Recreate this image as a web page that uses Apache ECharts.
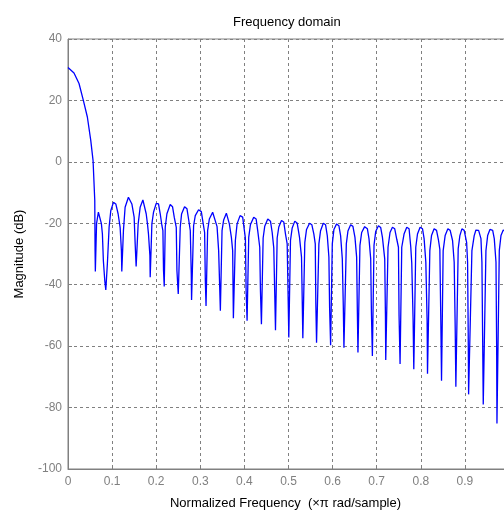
<!DOCTYPE html>
<html>
<head>
<meta charset="utf-8">
<script src="https://cdn.jsdelivr.net/npm/echarts@6/dist/echarts.min.js"></script>
<style>html,body{margin:0;padding:0;background:#fff;overflow:hidden}#c{width:504px;height:511px}</style>
</head>
<body>
<div id="c"></div>
<script>
// Normalized frequency (x pi rad/sample)
const freq = [
0.0000,0.0136,0.0250,0.0348,0.0439,0.0516,0.0568,0.0607,0.0614,0.0620,
0.0648,0.0689,0.0727,0.0757,0.0780,0.0802,0.0834,0.0857,0.0893,0.0932,
0.0970,0.1030,0.1084,0.1136,0.1182,0.1211,0.1220,0.1257,0.1295,0.1370,
0.1448,0.1500,0.1523,0.1545,0.1591,0.1636,0.1698,0.1773,0.1802,0.1825,
0.1857,0.1864,0.1902,0.1939,0.2000,0.2052,0.2091,0.2130,0.2152,0.2166,
0.2182,0.2205,0.2243,0.2318,0.2370,0.2409,0.2455,0.2470,0.2500,0.2545,
0.2575,0.2643,0.2698,0.2734,0.2773,0.2795,0.2802,0.2848,0.2886,0.2961,
0.3023,0.3061,0.3098,0.3114,0.3130,0.3166,0.3205,0.3280,0.3325,0.3380,
0.3416,0.3455,0.3493,0.3530,0.3591,0.3659,0.3705,0.3734,0.3750,0.3795,
0.3834,0.3902,0.3961,0.4000,0.4023,0.4039,0.4061,0.4098,0.4136,0.4211,
0.4266,0.4302,0.4348,0.4364,0.4386,0.4425,0.4461,0.4530,0.4591,0.4630,
0.4666,0.4689,0.4705,0.4743,0.4780,0.4841,0.4893,0.4932,0.4970,0.4993,
0.5007,0.5045,0.5084,0.5143,0.5198,0.5250,0.5295,0.5311,0.5325,0.5370,
0.5409,0.5477,0.5530,0.5575,0.5607,0.5620,0.5636,0.5689,0.5727,0.5789,
0.5841,0.5880,0.5916,0.5932,0.5955,0.5993,0.6030,0.6091,0.6143,0.6182,
0.6220,0.6243,0.6257,0.6311,0.6348,0.6409,0.6461,0.6507,0.6545,0.6561,
0.6575,0.6620,0.6659,0.6727,0.6789,0.6825,0.6864,0.6880,0.6902,0.6939,
0.6977,0.7039,0.7091,0.7130,0.7182,0.7198,0.7205,0.7257,0.7302,0.7357,
0.7409,0.7455,0.7493,0.7507,0.7530,0.7568,0.7620,0.7682,0.7734,0.7773,
0.7795,0.7825,0.7841,0.7886,0.7925,0.7984,0.8039,0.8075,0.8114,0.8143,
0.8152,0.8205,0.8243,0.8302,0.8357,0.8402,0.8432,0.8455,0.8470,0.8507,
0.8552,0.8614,0.8666,0.8720,0.8757,0.8780,0.8795,0.8848,0.8886,0.8932,
0.8984,0.9039,0.9061,0.9075,0.9084,0.9159,0.9211,0.9250,0.9311,0.9364,
0.9386,0.9402,0.9416,0.9477,0.9516,0.9568,0.9630,0.9666,0.9705,0.9720,
0.9727,0.9780,0.9818,0.9870,0.9925,0.9977,1.0000
];
// Magnitude (dB)
const magnitude = [
30.7,28.9,25.5,20.0,14.6,7.0,0.5,-12.6,-28.9,-35.7,
-20.0,-16.4,-16.6,-20.1,-23.5,-32.2,-38.7,-41.7,-33.2,-21.3,
-15.9,-13.2,-13.7,-16.9,-21.3,-28.9,-35.7,-22.4,-14.8,-11.5,
-13.7,-18.0,-26.7,-34.1,-20.2,-14.8,-12.4,-16.9,-20.2,-23.5,
-30.5,-37.6,-20.2,-16.4,-13.5,-13.7,-16.9,-20.8,-22.4,-35.4,
-40.6,-21.3,-16.9,-13.9,-14.6,-18.0,-21.3,-35.4,-43.0,-21.3,
-17.0,-14.6,-15.3,-18.6,-22.4,-36.5,-45.0,-20.8,-17.5,-15.6,
-16.2,-19.7,-23.0,-38.7,-46.9,-22.4,-18.6,-16.4,-17.0,-21.1,
-28.9,-48.5,-22.4,-18.9,-16.7,-20.2,-24.6,-28.9,-50.9,-25.6,
-20.2,-17.5,-18.0,-22.4,-25.0,-42.0,-51.7,-24.6,-20.5,-18.0,
-18.6,-22.4,-27.8,-42.0,-52.9,-24.8,-21.0,-18.6,-19.3,-23.0,
-28.0,-43.6,-54.8,-24.8,-21.2,-19.1,-19.6,-23.5,-26.7,-45.2,
-57.2,-25.6,-21.5,-19.3,-20.0,-24.6,-31.0,-44.7,-57.4,-26.2,
-22.0,-20.0,-20.5,-23.5,-26.7,-46.3,-58.9,-26.7,-22.4,-20.0,
-20.5,-24.1,-31.0,-47.4,-59.7,-26.7,-22.0,-20.2,-20.8,-24.1,
-31.6,-47.4,-60.5,-26.7,-22.5,-20.5,-21.0,-24.6,-31.0,-48.5,
-62.1,-27.2,-23.0,-21.1,-21.8,-25.0,-31.6,-49.0,-63.2,-27.2,
-22.7,-20.8,-21.4,-24.6,-31.6,-50.2,-64.5,-27.8,-23.0,-21.3,
-21.8,-25.2,-27.8,-50.0,-65.8,-27.8,-23.5,-21.3,-21.8,-27.8,
-33.0,-51.1,-67.5,-27.8,-23.5,-21.3,-21.8,-25.0,-32.7,-51.6,
-69.0,-28.9,-24.0,-21.8,-22.3,-25.6,-28.5,-53.2,-71.3,-28.9,
-24.0,-21.8,-22.3,-25.6,-32.7,-54.1,-73.2,-28.3,-24.0,-21.8,
-22.3,-26.2,-32.7,-55.5,-75.7,-28.9,-24.0,-22.2,-22.3,-25.0,
-32.7,-56.8,-79.0,-28.9,-24.0,-22.0,-22.3,-25.0,-32.7,-60.5,
-85.2,-28.9,-24.0,-22.2,-22.6,-25.5,-30.0
];
const xTicks = [0,0.1,0.2,0.3,0.4,0.5,0.6,0.7,0.8,0.9,1];
const yTicks = [40,20,0,-20,-40,-60,-80,-100];

const data = freq.map((f, i) => [f, magnitude[i]]);
const FONT = '"Liberation Sans", Arial, sans-serif';
const grey = '#808080';

const chart = echarts.init(document.getElementById('c'), null, {renderer: 'canvas'});
chart.setOption({
  animation: false,
  backgroundColor: '#ffffff',
  title: {
    text: 'Frequency domain',
    left: 228, top: 11,
    textStyle: {fontFamily: FONT, fontSize: 13, fontWeight: 'normal', color: '#000'}
  },
  grid: {left: 68, width: 441, top: 39, height: 430, outerBoundsMode: 'none', containLabel: false,
    show: true, borderColor: grey, borderWidth: 1, backgroundColor: 'transparent'},
  xAxis: {
    type: 'value', min: 0, max: 1, interval: 0.1,
    name: 'Normalized Frequency  (\u00d7\u03c0 rad/sample)',
    nameLocation: 'middle', nameGap: 28,
    nameTextStyle: {fontFamily: FONT, fontSize: 13, color: '#000', padding: [0, 6, 0, 0]},
    axisLine: {show: true, onZero: false, lineStyle: {color: grey}},
    axisTick: {show: true, inside: true, length: 4, lineStyle: {color: grey}},
    axisLabel: {fontFamily: FONT, fontSize: 12, color: grey, margin: 7,
      formatter: v => (v === 0 ? '0' : (v >= 1 ? '' : v.toFixed(1)))},
    splitLine: {show: true, lineStyle: {color: grey, type: [3, 3], width: 1}}
  },
  yAxis: {
    type: 'value', min: -100, max: 40, interval: 20,
    name: 'Magnitude (dB)',
    nameLocation: 'middle', nameGap: 42, nameRotate: 90,
    nameTextStyle: {fontFamily: FONT, fontSize: 13, color: '#000'},
    axisLine: {show: true, onZero: false, lineStyle: {color: grey}},
    axisTick: {show: true, inside: true, length: 4, lineStyle: {color: grey}},
    axisLabel: {fontFamily: FONT, fontSize: 12, color: grey, margin: 6},
    splitLine: {show: true, lineStyle: {color: grey, type: [3, 3], width: 1}}
  },
  series: [{
    type: 'line', data: data, showSymbol: false, symbol: 'none',
    lineStyle: {color: '#0000ff', width: 1.3}, clip: true
  }]
});
</script>
</body>
</html>
